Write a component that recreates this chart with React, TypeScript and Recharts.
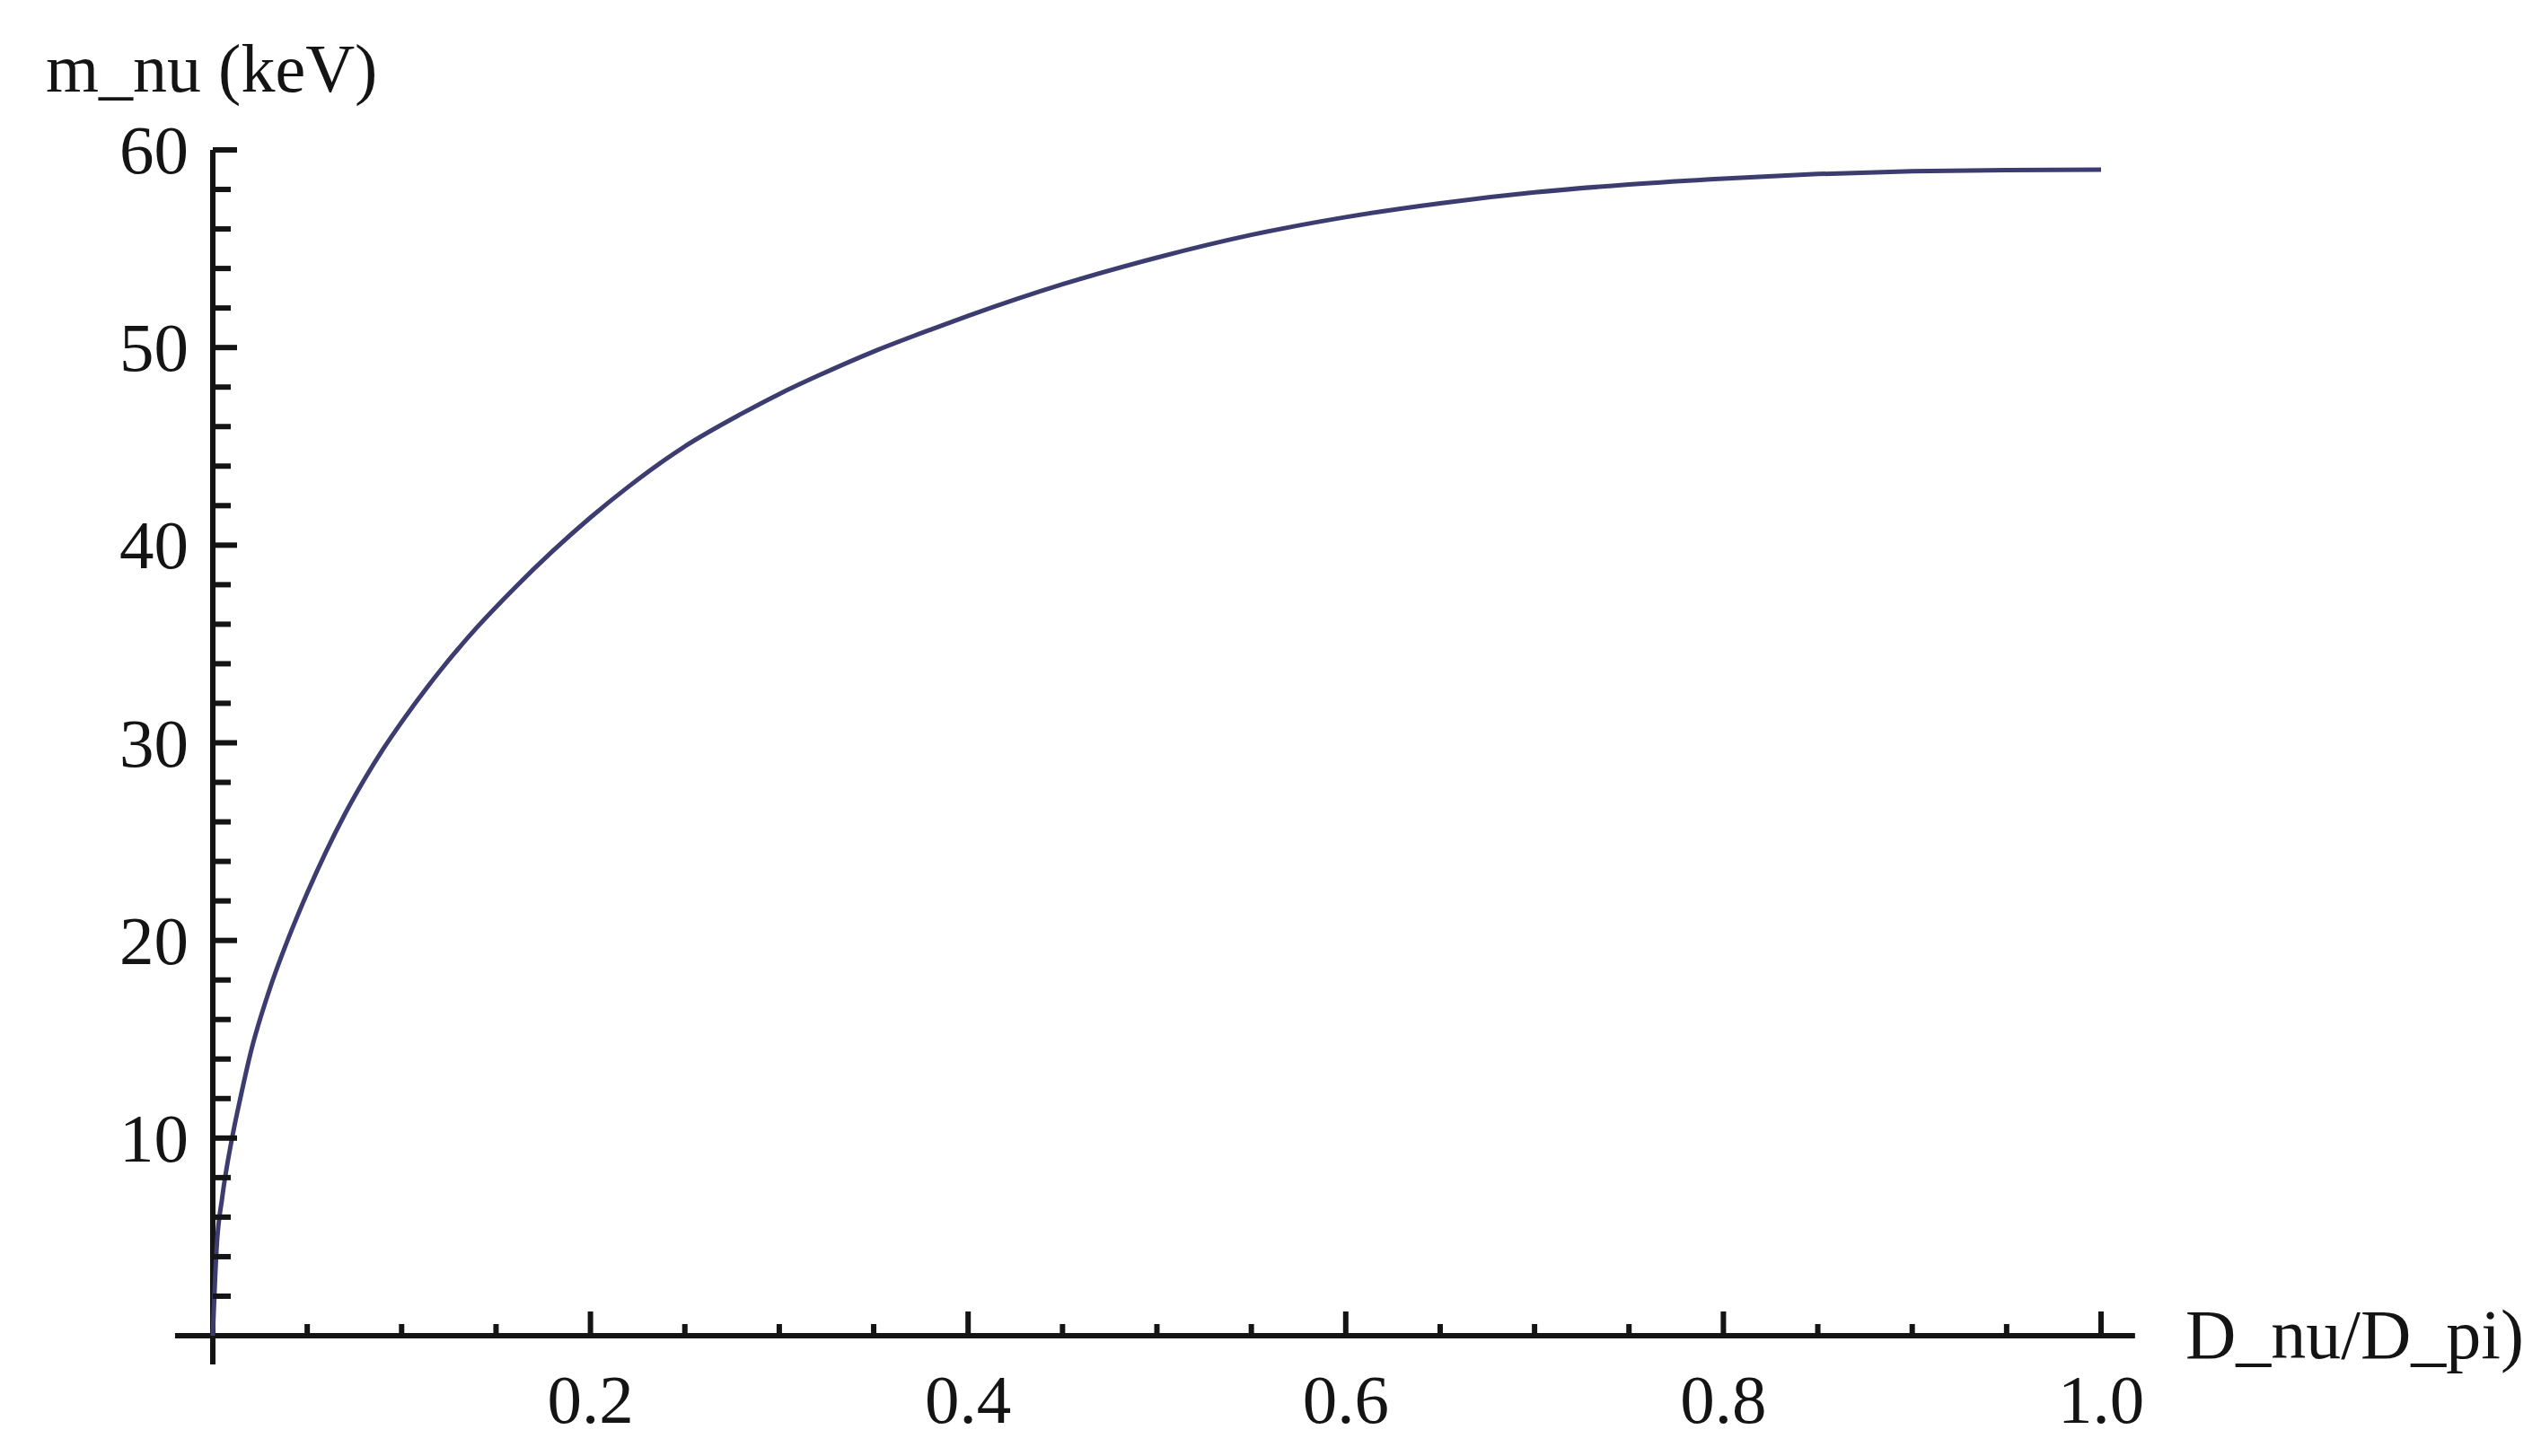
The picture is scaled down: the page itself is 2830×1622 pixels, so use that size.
import React from 'react';
import { LineChart, Line, XAxis, YAxis, ReferenceLine } from 'recharts';

// D_nu / D_pi ratio (x) and the neutrino mass in keV (y)
const ratio = [0, 0.002, 0.005, 0.01, 0.015, 0.02, 0.03, 0.04, 0.05, 0.06, 0.07, 0.08, 0.09, 0.1, 0.12, 0.14, 0.16, 0.18, 0.2, 0.22, 0.25, 0.28, 0.3, 0.32, 0.35, 0.38, 0.4, 0.45, 0.5, 0.55, 0.6, 0.65, 0.7, 0.75, 0.8, 0.85, 0.9, 0.95, 1.0];
const massKeV = [0, 4.4, 7.0, 9.9, 12.2, 14.3, 17.5, 20.1, 22.4, 24.5, 26.4, 28.1, 29.65, 31.05, 33.6, 35.85, 37.85, 39.7, 41.4, 42.95, 45.0, 46.65, 47.65, 48.55, 49.8, 50.9, 51.6, 53.2, 54.55, 55.7, 56.6, 57.3, 57.85, 58.25, 58.55, 58.78, 58.92, 58.98, 59.0];

const xMajorTicks = [0.2, 0.4, 0.6, 0.8, 1.0];
const xMinorTicks = [0.05, 0.1, 0.15, 0.25, 0.3, 0.35, 0.45, 0.5, 0.55, 0.65, 0.7, 0.75, 0.85, 0.9, 0.95];
const yMajorTicks = [10, 20, 30, 40, 50, 60];
const yMinorTicks = [2, 4, 6, 8, 12, 14, 16, 18, 22, 24, 26, 28, 32, 34, 36, 38, 42, 44, 46, 48, 52, 54, 56, 58];

const xTitle = 'D_nu/D_pi)';
const yTitle = 'm_nu (keV)';

const data = ratio.map((r, i) => ({ r, m: massKeV[i] }));

const FONT = '"Liberation Serif", "Times New Roman", serif';
const INK = '#141414';

const XTick = (props: any) => {
  const { x, y, payload } = props;
  const major = xMajorTicks.includes(payload.value);
  return (
    <g>
      <line x1={x} x2={x} y1={y} y2={y - (major ? 27 : 13)} stroke={INK} strokeWidth={6} />
      {major && (
        <text x={x} y={y + 97} textAnchor="middle" fontFamily={FONT} fontSize={77} fill={INK}>
          {payload.value.toFixed(1)}
        </text>
      )}
    </g>
  );
};

const YTick = (props: any) => {
  const { x, y, payload } = props;
  const major = yMajorTicks.includes(payload.value);
  return (
    <g>
      <line x1={x} x2={x + (major ? 27 : 20)} y1={y} y2={y} stroke={INK} strokeWidth={6} />
      {major && (
        <text x={x - 27} y={y + 26} textAnchor="end" fontFamily={FONT} fontSize={77} fill={INK}>
          {payload.value}
        </text>
      )}
    </g>
  );
};

export default function App() {
  return (
    <div style={{ position: 'absolute', left: 0, top: 0, width: 2830, height: 1622, background: '#fff' }}>
      <LineChart
        width={2830}
        height={1622}
        data={data}
        margin={{ top: 167, right: 490, bottom: 133, left: 236 }}
      >
        <XAxis
          dataKey="r"
          type="number"
          domain={[0, 1]}
          ticks={[...xMinorTicks, ...xMajorTicks].sort((a, b) => a - b)}
          interval={0}
          height={1}
          axisLine={false}
          tickLine={false}
          tickSize={0}
          tickMargin={0}
          tick={<XTick />}
        />
        <YAxis
          type="number"
          domain={[0, 60]}
          ticks={[...yMinorTicks, ...yMajorTicks].sort((a, b) => a - b)}
          interval={0}
          width={1}
          axisLine={false}
          tickLine={false}
          tickSize={0}
          tickMargin={0}
          tick={<YTick />}
        />
        <ReferenceLine
          segment={[{ x: -0.02, y: 0 }, { x: 1.018, y: 0 }]}
          stroke={INK}
          strokeWidth={6}
          ifOverflow="visible"
        />
        <ReferenceLine
          segment={[{ x: 0, y: -1.45 }, { x: 0, y: 60 }]}
          stroke={INK}
          strokeWidth={6}
          ifOverflow="visible"
        />
        <Line
          type="monotone"
          dataKey="m"
          stroke="#3c3c70"
          strokeWidth={5}
          dot={false}
          isAnimationActive={false}
        />
      </LineChart>
      <div
        style={{
          position: 'absolute',
          left: 51,
          top: 38,
          fontFamily: FONT,
          fontSize: 76,
          lineHeight: 1,
          color: INK,
          whiteSpace: 'nowrap',
        }}
      >
        {yTitle}
      </div>
      <div
        style={{
          position: 'absolute',
          left: 2434,
          top: 1448,
          fontFamily: FONT,
          fontSize: 78,
          lineHeight: 1,
          color: INK,
          whiteSpace: 'nowrap',
        }}
      >
        {xTitle}
      </div>
    </div>
  );
}
